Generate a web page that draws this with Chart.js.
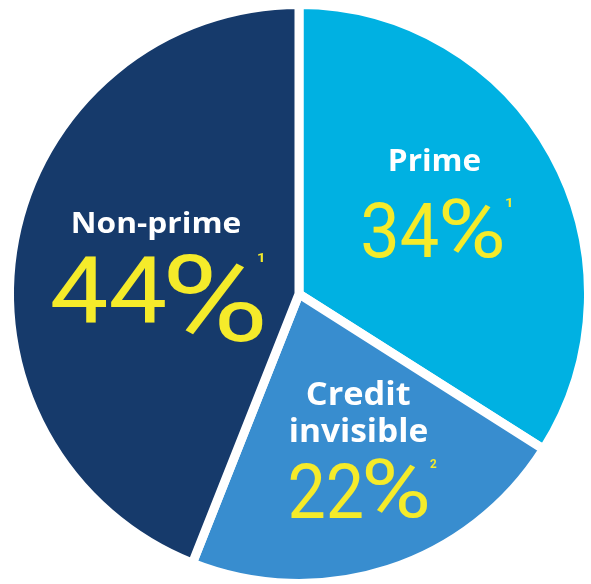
<!DOCTYPE html>
<html>
<head>
<meta charset="utf-8">
<script src="https://cdn.jsdelivr.net/npm/chart.js@4"></script>
<style>
  html, body { margin: 0; padding: 0; background: #ffffff; }
  #wrap { width: 591px; height: 584px; }
</style>
</head>
<body>
<div id="wrap"><canvas id="chart" width="591" height="584"></canvas></div>
<script>
// Share of consumers by credit status
const categories = ['Prime', 'Credit invisible', 'Non-prime'];
const nameLines = [['Prime'], ['Credit', 'invisible'], ['Non-prime']];
const shares = [34, 22, 44];
const footnotes = ['1', '2', '1'];
const sliceColors = ['#00b1e2', '#388dcf', '#163a6b'];

// Ink boxes [left, top, right, bottom] for every piece of each slice's label
const labelBoxes = [
  { names: [[390, 148, 480, 171]],
    digits: [363, 202, 438, 258], pct: [442, 198, 502, 258], note: [506, 197, 511, 207], size: 79 },
  { names: [[307, 381, 410, 405], [291, 417, 427, 442]],
    digits: [290, 462, 362, 518], pct: [365, 458, 427, 518], note: [430, 458, 437, 468], size: 79 },
  { names: [[73, 211, 240, 240]],
    digits: [52, 255, 165, 322], pct: [168, 252, 263, 342], note: [258, 252, 263, 262], size: 94 }
];

// draw text so that its ink fills the given box
function fitText(ctx, text, box) {
  const m = ctx.measureText(text);
  const iw = m.actualBoundingBoxLeft + m.actualBoundingBoxRight;
  const ih = m.actualBoundingBoxAscent + m.actualBoundingBoxDescent;
  const sx = (box[2] - box[0]) / iw;
  const sy = (box[3] - box[1]) / ih;
  ctx.save();
  ctx.translate(box[0], box[1]);
  ctx.scale(sx, sy);
  ctx.fillText(text, m.actualBoundingBoxLeft, m.actualBoundingBoxAscent);
  ctx.restore();
}

const sliceLabels = {
  id: 'sliceLabels',
  afterDatasetsDraw(chart) {
    const ctx = chart.ctx;
    ctx.save();
    ctx.textAlign = 'left';
    ctx.textBaseline = 'alphabetic';
    labelBoxes.forEach((b, i) => {
      // slice name in bold white
      ctx.fillStyle = '#ffffff';
      ctx.font = 'bold 29px "Open Sans", Arial, sans-serif';
      nameLines[i].forEach((t, k) => fitText(ctx, t, b.names[k]));
      // share in yellow, with its footnote mark
      ctx.fillStyle = '#f5eb2a';
      ctx.font = `400 ${b.size}px Roboto, "Open Sans", sans-serif`;
      fitText(ctx, String(shares[i]), b.digits);
      ctx.font = `400 ${Math.round(b.size * 0.9)}px Roboto, "Open Sans", sans-serif`;
      fitText(ctx, '%', b.pct);
      ctx.font = 'bold 15px Roboto, sans-serif';
      fitText(ctx, footnotes[i], b.note);
    });
    ctx.restore();
  }
};

new Chart(document.getElementById('chart'), {
  type: 'pie',
  data: {
    labels: categories,
    datasets: [{
      data: shares,
      backgroundColor: sliceColors,
      borderColor: '#ffffff',
      borderWidth: 9,
      clip: false
    }]
  },
  options: {
    responsive: false,
    animation: false,
    radius: 289.5,
    layout: { padding: { left: 7, right: 0, top: 4, bottom: 0 } },
    plugins: {
      legend: { display: false },
      tooltip: { enabled: false }
    },
    events: []
  },
  plugins: [sliceLabels]
});
</script>
</body>
</html>
